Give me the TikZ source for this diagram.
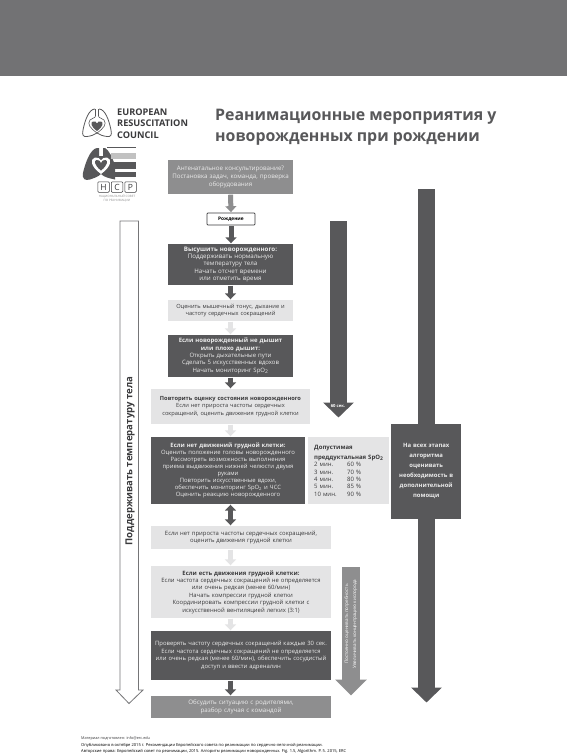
\documentclass[tikz,border=0pt]{standalone}
\usepackage{fontspec}
\setmainfont{Open Sans}
\usetikzlibrary{arrows.meta}
\definecolor{dk}{HTML}{58585A}
\definecolor{md}{HTML}{8E8E8F}
\definecolor{lt}{HTML}{E4E4E5}
\definecolor{ink}{HTML}{3A3A3C}
\definecolor{band}{HTML}{727274}
\newcommand{\fs}[2]{\fontsize{#1pt}{#2pt}\selectfont}
\newcommand{\spoline}[2]{\hspace*{6pt}\makebox[33pt][l]{#1}#2}
\tikzset{
  box/.style={inner sep=0pt,align=center,font=\fs{6.2}{7.6}},
  darkbox/.style={box,fill=dk,text=white!92!black},
  lightbox/.style={box,fill=lt,text=ink},
  midbox/.style={box,fill=md,text=white!92!black},
  sz/.style 2 args={minimum width=#1pt,minimum height=#2pt,text width=#1pt-4pt},
  flow/.style={line width=5pt,-{Triangle[width=11pt,length=6pt]},shorten >=0.5pt,shorten <=0.5pt},
  flowdk/.style={flow,draw=dk},
  flowmd/.style={flow,draw=md},
  flowlt/.style={flow,draw=lt},
  longdk/.style={line width=17pt,draw=dk,-{Triangle[width=30pt,length=15pt]}},
  longmd/.style={line width=18pt,draw=md,-{Triangle[width=31pt,length=16pt]}},
}
\begin{document}
\begin{tikzpicture}[x=1pt,y=-1pt]
\useasboundingbox (0,0) rectangle (567,755);
\fill[white] (0,0) rectangle (567,755);
\fill[band] (0,0) rectangle (567,76);

% ERC logo
\begin{scope}[draw=dk,line width=0.8pt,line join=round]
\draw (95,109) .. controls (89,109) and (85,120) .. (83,130) .. controls (82,135) and (83,137) .. (87,136.5) .. controls (91,136) and (94,135) .. (97,133);
\draw (99,109) .. controls (105,109) and (109,120) .. (111,130) .. controls (112,135) and (111,137) .. (107,136.5) .. controls (103,136) and (100,135) .. (97,133);
\draw[line width=0.6pt] (95.5,109) -- (95.5,116) .. controls (95.5,118) and (92,118) .. (90,120) .. controls (87,124) and (90,128) .. (97,133) .. controls (104,128) and (107,124) .. (104,120) .. controls (102,118) and (98.5,118) .. (98.5,116) -- (98.5,109);
\end{scope}
\fill[dk] (97,131) .. controls (91,127) and (90,122) .. (93,121.5) .. controls (95,121) and (96.5,122) .. (97,123.5) .. controls (97.5,122) and (99,121) .. (101,121.5) .. controls (104,122) and (103,127) .. (97,131) -- cycle;
\node[anchor=north west,inner sep=0pt,text=ink,align=left,font=\bfseries\fs{9.2}{11.6}] (erc) at (117,108.5) {EUROPEAN\\RESUSCITATION\\COUNCIL};
\node[anchor=north west,inner sep=0pt,text=dk,align=left,font=\bfseries\fs{15.9}{21}] (title) at (215,109) {Реанимационные мероприятия у\\новорожденных при рождении};

% NCP logo
\fill[dk] (97,148) .. controls (90,149) and (85,164) .. (83,173) .. controls (82,179) and (85,181) .. (90,179.5) .. controls (94,178) and (98,177) .. (101,174) .. controls (104,177) and (108,178) .. (115,179.5) -- (115,165) .. controls (112,157) and (109,150) .. (105,148) -- (103,148) -- (103,156) -- (99,156) -- (99,148) -- cycle;
\fill[white] (101,174) .. controls (90,166) and (90,159) .. (95,157.5) .. controls (98,157) and (100,158.5) .. (101,160.5) .. controls (102,158.5) and (104,157) .. (107,157.5) .. controls (112,159) and (112,166) .. (101,174) -- cycle;
\fill[dk] (101,170.5) .. controls (94,165) and (94,160.5) .. (96.5,160) .. controls (98.5,159.5) and (100.5,161) .. (101,163) .. controls (101.5,161) and (103.5,159.5) .. (105.5,160) .. controls (108,160.5) and (108,165) .. (101,170.5) -- cycle;
\draw[dk,line width=0.6pt] (107,147.5) -- (136,147.5);
\fill[md!55] (111,153) rectangle (136,159);
\fill[dk] (114,162) rectangle (136,169);
\fill[dk] (115,171.5) rectangle (136,176.5);
\foreach \n/\xa/\t in {h/103.5/H,c/117/C,p/130.5/P}{
  \node[draw=ink,line width=0.5pt,rounded corners=1pt,minimum width=11.5pt,minimum height=10.5pt,inner sep=0pt,text=ink,font=\fs{8.5}{8.5}] (ncp\n) at (\xa,187) {\t};
}
\node[inner sep=0pt,align=center,text=md,font=\fs{3}{3.8}] (ncptext) at (117,198.5) {НАЦИОНАЛЬНЫЙ СОВЕТ\\ПО РЕАНИМАЦИИ};

% left hollow arrow
\draw[ink!70,line width=0.8pt,fill=white,line join=miter] (120,221) -- (138.5,221) -- (138.5,690) -- (143,690) -- (129,703.5) -- (116,690) -- (120,690) -- cycle;
\node[rotate=90,inner sep=0pt,text=ink,font=\bfseries\fs{9.6}{12}] (temp) at (130,461) {Поддерживать температуру тела};

% long arrows
\coordinate (m1) at (338.5,221);
\coordinate (m2) at (338.5,417.5);
\draw[longdk] (m1) -- (m2);
\node[inner sep=0pt,text=white,font=\bfseries\fs{4.2}{5}] (sec) at (338,406) {60 сек.};
\coordinate (r1) at (426.5,189);
\coordinate (r2) at (426.5,702.5);
\draw[longdk] (r1) -- (r2);
\node[darkbox,sz={70}{95},font=\bfseries\fs{5.9}{10},anchor=north west] (side) at (391,423.5) {На всех этапах\\алгоритма\\оценивать\\необходимость в\\дополнительной\\помощи};
\coordinate (g1) at (351,567);
\coordinate (g2) at (351,695.5);
\draw[longmd] (g1) -- (g2);
\node[rotate=90,inner sep=0pt,align=center,text=white,font=\fs{4.6}{8}] (gtext) at (351,624) {Постоянно оценивать потребность\\Увеличивать концентрацию кислорода};

% main boxes
\node[midbox,sz={125}{34},fill=md] (n1) at (230.5,177) {Антенатальное консультирование?\\Постановка задач, команда, проверка\\оборудования};
\node[draw=ink,fill=white,line width=0.7pt,rounded corners=0.8pt,minimum width=48pt,minimum height=12pt,inner sep=0pt,text=black,font=\bfseries\fs{4.8}{6}] (n2) at (231,219) {Рождение};
\node[darkbox,sz={125}{41},font=\fs{6.2}{7.1}] (n3) at (230.5,264.5) {\textbf{Высушить новорожденного:}\\Поддерживать нормальную\\температуру тела\\Начать отсчет времени\\или отметить время};
\node[lightbox,sz={125}{21},font=\fs{5.7}{7.6}] (n4) at (230.5,310.5) {Оценить мышечный тонус, дыхание и\\частоту сердечных сокращений};
\node[darkbox,sz={125}{42},font=\fs{6}{7.4}] (n5) at (230.5,356) {\textbf{Если новорожденный не дышит}\\\textbf{или плохо дышит:}\\Открыть дыхательные пути\\Сделать 5 искусственных вдохов\\Начать мониторинг SpO\textsubscript{2}};
\node[lightbox,sz={159}{35},font=\fs{5.7}{7.8}] (n6) at (230.5,406.5) {\textbf{Повторить оценку состояния новорожденного}\\Если нет прироста частоты сердечных\\сокращений, оценить движения грудной клетки};
\node[darkbox,sz={154}{67},font=\fs{5.9}{7.1}] (n7) at (228,470.5) {\textbf{Если нет движений грудной клетки:}\\Оценить положение головы новорожденного\\Рассмотреть возможность выполнения\\приема выдвижения нижней челюсти двумя\\руками\\Повторить искусственные вдохи,\\обеспечить мониторинг SpO\textsubscript{2} и ЧСС\\Оценить реакцию новорожденного};
\node[lightbox,sz={81}{67},text width=81pt,anchor=north west,align=left,font=\fs{6}{7.4}] (spo) at (308,437) {\hspace*{6pt}\textbf{Допустимая}\\[2.4pt]\hspace*{6pt}\textbf{преддуктальная SpO\textsubscript{2}}\\\spoline{2 мин.}{60 \%}\\\spoline{3 мин.}{70 \%}\\\spoline{4 мин.}{80 \%}\\\spoline{5 мин.}{85 \%}\\\spoline{10 мин.}{90 \%}};
\node[lightbox,sz={180}{23},font=\fs{5.9}{7.6}] (n8) at (241,537.5) {Если нет прироста частоты сердечных сокращений,\\оценить движения грудной клетки};
\node[lightbox,sz={180}{52},font=\fs{5.9}{7.4}] (n9) at (241,592) {\textbf{Если есть движения грудной клетки:}\\Если частота сердечных сокращений не определяется\\или очень редкая (менее 60/мин)\\Начать компрессии грудной клетки\\Координировать компрессии грудной клетки с\\искусственной вентиляцией легких (3:1)};
\node[darkbox,sz={180}{49},font=\fs{5.9}{7.6}] (n10) at (241,655.5) {Проверять частоту сердечных сокращений каждые 30 сек.\\Если частота сердечных сокращений не определяется\\или очень редкая (менее 60/мин), обеспечить сосудистый\\доступ и ввести адреналин};
\node[midbox,sz={180}{22}] (n11) at (241,707) {Обсудить ситуацию с родителями,\\разбор случая с командой};

% connectors
\draw[flowmd] (n1.south) -- (n2.north);
\draw[flowdk] (n2.south) -- (n2.south |- n3.north);
\draw[flowdk] (n3.south) -- (n4.north);
\draw[flowlt] (n4.south) -- (n5.north);
\draw[flowdk] (n5.south) -- (n6.north);
\draw[flowlt] (n6.south) -- (n6.south |- n7.north);
\draw[flowdk,{Triangle[width=11pt,length=6pt]}-{Triangle[width=11pt,length=6pt]}] (n6.south |- n7.south) -- (n6.south |- n8.north);
\draw[flowlt] (n6.south |- n8.south) -- (n6.south |- n9.north);
\draw[flowlt] (n6.south |- n9.south) -- (n6.south |- n10.north);
\draw[flowdk] (n6.south |- n10.south) -- (n6.south |- n11.north);

% footer
\node[anchor=north west,inner sep=0pt,text=ink,font=\fs{3.8}{5}] (foot1) at (81,736) {Материал подготовлен: info@erc.edu};
\node[anchor=north west,inner sep=0pt,text=black,align=left,font=\fs{4.05}{5.4}] (foot2) at (81,743.5) {Опубликовано в октябре 2015 г. Рекомендации Европейского совета по реанимации по сердечно-легочной реанимации.\\Авторские права: Европейский совет по реанимации, 2015. Алгоритм реанимации новорожденных. Fig. 1.5, Algorithm. Р. 5. 2015, ERC};
\end{tikzpicture}
\end{document}
